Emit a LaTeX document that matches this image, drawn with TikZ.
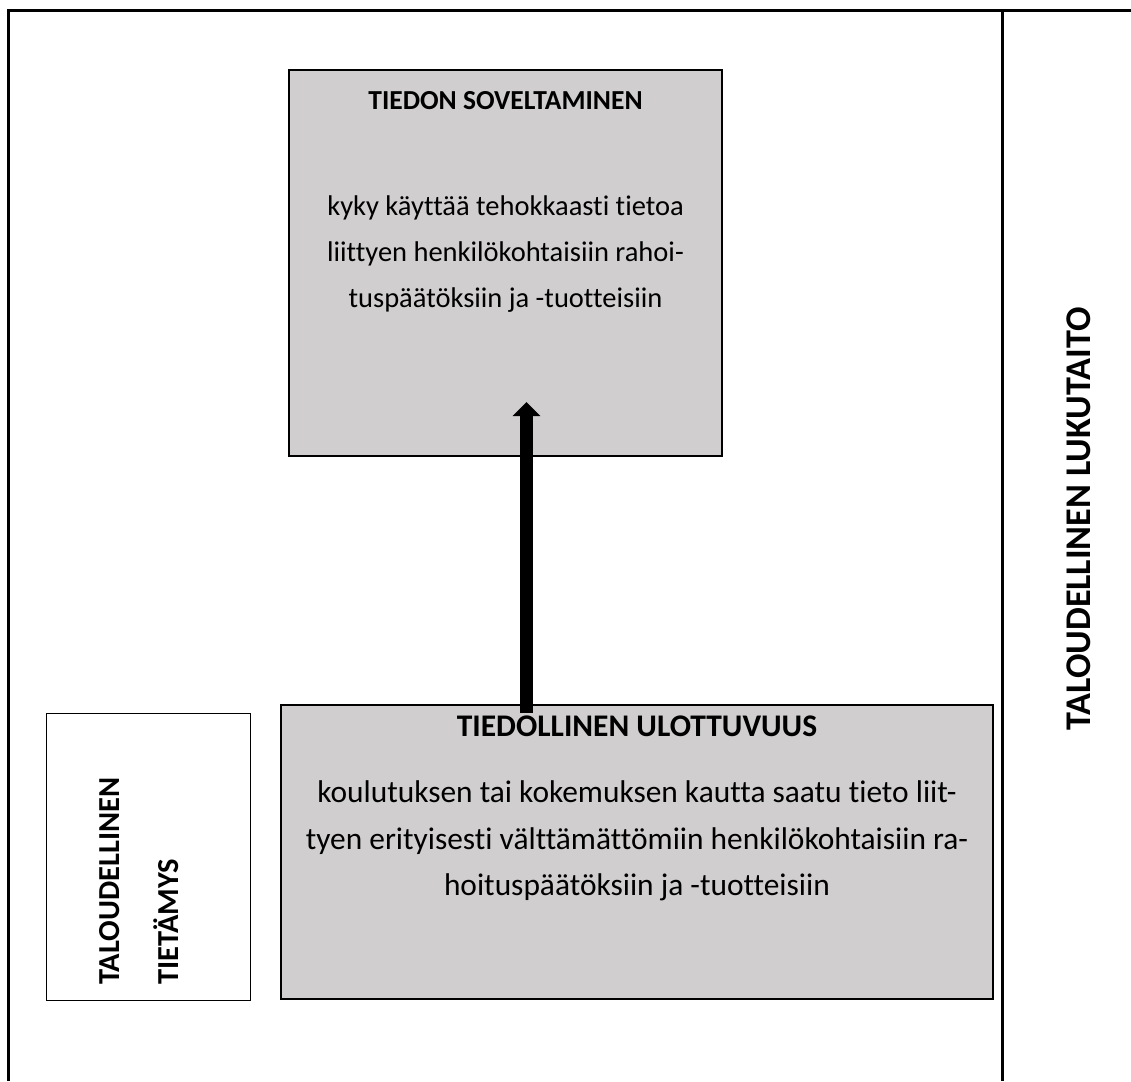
\documentclass[tikz,border=0pt]{standalone}
\usepackage{fontspec}
\setmainfont[Ligatures=NoCommon]{Carlito}
\usetikzlibrary{arrows.meta}
\definecolor{boxgray}{HTML}{D0CECE}
\tikzset{
  graybox/.style={draw=black, fill=boxgray, inner sep=0pt},
  whitebox/.style={draw=black, line width=1pt, fill=white, inner sep=0pt},
  toptitle/.style={font=\fontsize{27.5}{33}\selectfont\bfseries, inner sep=0pt, anchor=base},
  topbody/.style={font=\fontsize{28.5}{34}\selectfont, inner sep=0pt, anchor=base},
  bottitle/.style={font=\fontsize{31.5}{38}\selectfont\bfseries, inner sep=0pt, anchor=base},
  botbody/.style={font=\fontsize{31.4}{37}\selectfont, inner sep=0pt, anchor=base},
  sidetext/.style={font=\fontsize{30.5}{36}\selectfont\bfseries, inner sep=0pt, rotate=90, anchor=base west},
  righttext/.style={font=\fontsize{36.2}{42}\selectfont\bfseries, inner sep=0pt, rotate=90, anchor=base},
  bigarrow/.style={line width=13pt, -{Triangle[width=27pt,length=14pt]}}
}
\begin{document}
\begin{tikzpicture}[x=1pt,y=-1pt]
\useasboundingbox (0,0) rectangle (1131,1081);
% outer frame
\draw[line width=3pt] (8,1081) -- (8,11) -- (1131,11);
\draw[line width=3pt] (1002,11) -- (1002,1081);
% boxes
\node[graybox, line width=1.5pt, minimum width=433pt, minimum height=386pt] (top) at (505.5,263) {};
\node[graybox, line width=2.5pt, minimum width=712pt, minimum height=294pt] (bot) at (637,852) {};
\node[whitebox, minimum width=204pt, minimum height=287pt] (small) at (148,856.5) {};
% texts top box
\node[toptitle] (toptitletext) at (505.5,109) {TIEDON SOVELTAMINEN};
\node[topbody] (topl1) at (505.5,215) {kyky käyttää tehokkaasti tietoa};
\node[topbody] (topl2) at (505.5,261) {liittyen henkilökohtaisiin rahoi-};
\node[topbody] (topl3) at (505.5,307) {tuspäätöksiin ja -tuotteisiin};
% texts bottom box
\node[bottitle] (bottitletext) at (637,736) {TIEDOLLINEN ULOTTUVUUS};
\node[botbody] (botl1) at (637,802) {koulutuksen tai kokemuksen kautta saatu tieto liit-};
\node[botbody] (botl2) at (637,849) {tyen erityisesti välttämättömiin henkilökohtaisiin ra-};
\node[botbody] (botl3) at (637,895) {hoituspäätöksiin ja -tuotteisiin};
% side labels
\node[sidetext] (small1) at (119.5,985) {TALOUDELLINEN};
\node[sidetext] (small2) at (178,985) {TIETÄMYS};
\node[righttext] (rightlabel) at (1090,519) {TALOUDELLINEN LUKUTAITO};
% arrow
\coordinate (arrowstart) at (526.5,713);
\coordinate (arrowend) at (526.5,402);
\draw[bigarrow] (arrowstart) -- (arrowend);
\end{tikzpicture}
\end{document}
